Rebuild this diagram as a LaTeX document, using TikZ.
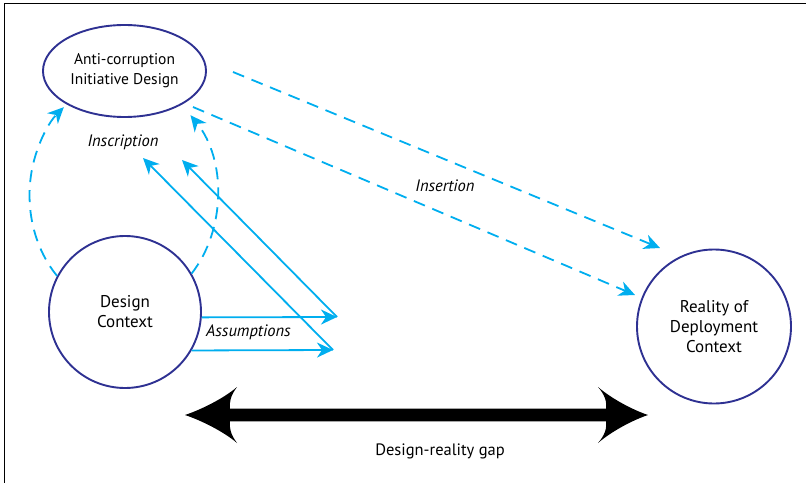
\documentclass[tikz,border=0pt]{standalone}
\usepackage{fontspec}
\setmainfont{PT Sans}
\usetikzlibrary{arrows.meta,shapes.geometric}
\definecolor{navyc}{HTML}{2E3192}
\definecolor{cyanc}{HTML}{00AEEF}
\tikzset{
  ctx/.style={circle, draw=navyc, line width=1.9pt, inner sep=0pt, align=center, font=\fontsize{17}{20}\selectfont},
  ell/.style={ellipse, draw=navyc, line width=1.9pt, inner sep=0pt, align=center, font=\fontsize{15.5}{20}\selectfont},
  blue arrow/.style={draw=cyanc, line width=1.8pt, -{Stealth[length=16pt,width=15pt,inset=5pt]}},
  dashed arrow/.style={blue arrow, dash pattern=on 12pt off 8pt},
  lbl/.style={font=\itshape\fontsize{16.5}{19}\selectfont, inner sep=0pt},
  gaplbl/.style={font=\fontsize{16.5}{19}\selectfont, inner sep=0pt}
}
\begin{document}
\begin{tikzpicture}[x=1pt,y=1pt]
\useasboundingbox (0,0) rectangle (806,483);
% frame (top and left)
\draw[line width=1pt] (806,479) -- (4,479) -- (4,0);

% nodes
\node[ell, minimum width=163pt, minimum height=92pt] (acid) at (124.5,412) {Anti-corruption\\Initiative Design};
\node[ctx, minimum size=152pt] (dc) at (125,171) {Design\\Context};
\node[ctx, minimum size=154pt] (rdc) at (714,156.5) {Reality of\\Deployment\\Context};

% labels
\node[lbl] (insc) at (123,341) {Inscription};
\node[lbl] (inse) at (445,297) {Insertion};
\node[lbl] (assu) at (248.5,151) {Assumptions};
\node[gaplbl] (gap) at (440,32) {Design-reality gap};

% inscription dashed arcs
\draw[dashed arrow] (dc.152) arc[start angle=224.5, end angle=130, x radius=96, y radius=115];
\draw[dashed arrow] (dc.30) arc[start angle=-43, end angle=44, x radius=96, y radius=115];

% insertion dashed arrows
\coordinate (ins1s) at (233,411);
\coordinate (ins1e) at (660,235);
\coordinate (ins2s) at (193,376);
\coordinate (ins2e) at (635,188);
\draw[dashed arrow] (ins1s) -- (ins1e);
\draw[dashed arrow] (ins2s) -- (ins2e);

% assumptions and inscription solid arrows
\coordinate (a1) at (337,166);
\coordinate (a2) at (333,133);
\coordinate (t1) at (182,323);
\coordinate (t2) at (143,325);
\draw[blue arrow] (dc.-4) -- (a1);
\draw[blue arrow] (dc.-30) -- (a2);
\draw[blue arrow] (a1) -- (t1);
\draw[blue arrow] (a2) -- (t2);

% design-reality gap double arrow
\coordinate (gapL) at (185,68);
\coordinate (gapR) at (648,68);
\fill[black] (gapL) .. controls (200,73) and (223,84) .. (237,96)
  .. controls (231,88) and (229,81) .. (230,74.3) -- (606,74.3)
  .. controls (607,81) and (605,88) .. (598,96)
  .. controls (612,84) and (633,73) .. (gapR)
  .. controls (633,63) and (612,52) .. (598,40)
  .. controls (605,48) and (607,55) .. (606,61.7) -- (230,61.7)
  .. controls (229,55) and (231,48) .. (237,40)
  .. controls (223,52) and (200,63) .. cycle;
\end{tikzpicture}
\end{document}
